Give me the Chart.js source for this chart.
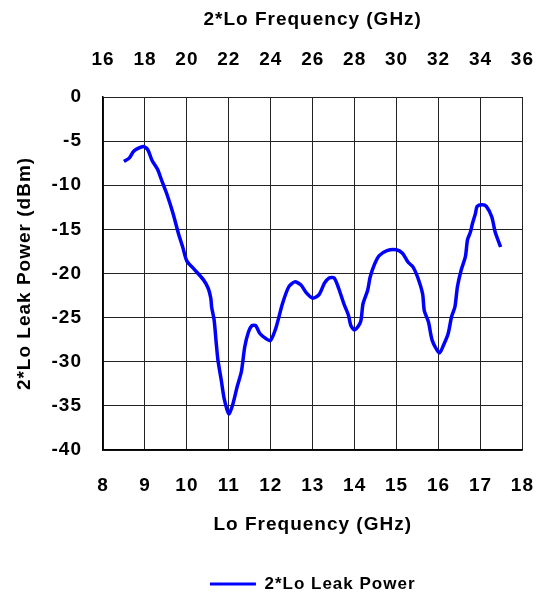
<!DOCTYPE html>
<html>
<head>
<meta charset="utf-8">
<script src="https://cdn.jsdelivr.net/npm/chart.js@4/dist/chart.umd.min.js"></script>
<style>
html,body{margin:0;padding:0;background:#fff;}
#wrap{width:560px;height:593px;position:relative;}
</style>
</head>
<body>
<div id="wrap"><canvas id="c"></canvas></div>
<script>
// Lo frequency (GHz)
const loFreq = [8.50, 8.63, 8.74, 8.96, 9.07, 9.17, 9.30, 9.41, 9.53, 9.67, 9.80, 9.90, 10.00, 10.17, 10.40, 10.51, 10.57, 10.59, 10.65, 10.70, 10.74, 10.82, 10.89, 11.00, 11.09, 11.20, 11.30, 11.38, 11.47, 11.55, 11.64, 11.74, 11.89, 11.99, 12.12, 12.28, 12.43, 12.57, 12.72, 12.85, 13.00, 13.15, 13.28, 13.39, 13.51, 13.62, 13.74, 13.85, 13.91, 14.00, 14.14, 14.20, 14.31, 14.37, 14.47, 14.58, 14.77, 14.99, 15.14, 15.27, 15.39, 15.50, 15.62, 15.66, 15.76, 15.85, 16.02, 16.12, 16.23, 16.31, 16.39, 16.45, 16.54, 16.64, 16.69, 16.76, 16.81, 16.88, 16.92, 17.04, 17.14, 17.27, 17.35, 17.48];
// 2*Lo leak power (dBm)
const leakPower = [-7.3, -6.9, -6.1, -5.6, -6.0, -7.2, -8.2, -9.6, -11.1, -13.2, -15.5, -17.0, -18.6, -19.5, -20.75, -21.7, -22.8, -23.8, -25.3, -27.9, -29.8, -32.1, -34.2, -35.9, -34.9, -32.8, -31.1, -28.3, -26.6, -25.9, -25.9, -26.8, -27.4, -27.6, -26.2, -23.4, -21.5, -20.95, -21.3, -22.2, -22.8, -22.4, -21.1, -20.5, -20.5, -21.7, -23.4, -24.7, -25.9, -26.4, -25.5, -23.4, -21.9, -20.4, -19.0, -18.0, -17.4, -17.3, -17.7, -18.7, -19.25, -20.4, -22.3, -24.2, -25.5, -27.6, -29.0, -28.1, -26.8, -24.9, -23.8, -21.5, -19.6, -18.1, -16.2, -15.3, -14.3, -13.2, -12.4, -12.2, -12.4, -13.6, -15.3, -17.0];

const seriesName = '2*Lo Leak Power';
const xTitle = 'Lo Frequency (GHz)';
const x2Title = '2*Lo Frequency (GHz)';
const yTitle = '2*Lo Leak Power (dBm)';
const xRange = [8, 18];
const x2Range = [16, 36];
const yRange = [-40, 0];

const FONT = '"Liberation Sans", Arial, Helvetica, sans-serif';
const tickFont = {family: FONT, size: 19, weight: 'bold'};
const titleFont = {family: FONT, size: 19, weight: 'bold'};

const spacingPlugin = {
  id: 'spacing',
  beforeUpdate(chart){ chart.ctx.letterSpacing = '1px'; },
  beforeLayout(chart){ chart.ctx.letterSpacing = '1px'; },
  beforeDraw(chart){ chart.ctx.letterSpacing = '1px'; }
};

const points = loFreq.map((x, i) => ({x: x, y: leakPower[i]}));

new Chart(document.getElementById('c'), {
  type: 'line',
  data: {
    datasets: [{
      label: seriesName,
      data: points,
      borderColor: '#0000FF',
      backgroundColor: '#0000FF',
      borderWidth: 3.5,
      pointRadius: 0,
      tension: 0.25,
      fill: false
    }]
  },
  plugins: [spacingPlugin],
  options: {
    responsive: true,
    maintainAspectRatio: false,
    animation: false,
    layout: {padding: {left: 0, right: 23, top: 0, bottom: -9.5}},
    plugins: {
      legend: {
        position: 'bottom',
        fullSize: false,
        labels: {
          color: '#000',
          font: {family: FONT, size: 17, weight: 'bold'},
          boxWidth: 46,
          boxHeight: 3,
          padding: 10,
          generateLabels: (chart) => Chart.defaults.plugins.legend.labels.generateLabels(chart).map(l => Object.assign(l, {lineWidth: 0, fillStyle: '#0000FF'}))
        }
      },
      tooltip: {enabled: false}
    },
    scales: {
      x: {
        type: 'linear',
        position: 'bottom',
        min: xRange[0], max: xRange[1],
        afterFit: (s) => { s.height = 115.5; },
        ticks: {stepSize: 1, color: '#000', font: tickFont, padding: 24, maxRotation: 0},
        grid: {color: '#222', lineWidth: 1, drawTicks: false},
        border: {color: '#000', width: 1.5},
        title: {display: true, text: xTitle, color: '#000', font: titleFont, padding: {top: 0, bottom: 29}}
      },
      x2: {
        type: 'linear',
        position: 'top',
        min: x2Range[0], max: x2Range[1],
        afterFit: (s) => { s.height = 97; },
        ticks: {stepSize: 2, color: '#000', font: tickFont, padding: 26, maxRotation: 0},
        grid: {display: false, drawTicks: false},
        border: {display: false},
        title: {display: true, text: x2Title, color: '#000', font: titleFont, padding: {top: 8.6, bottom: 0}}
      },
      y: {
        type: 'linear',
        position: 'left',
        min: yRange[0], max: yRange[1],
        afterFit: (s) => { s.width = 103; },
        ticks: {stepSize: 5, color: '#000', font: tickFont, padding: 21},
        grid: {color: '#222', lineWidth: 1, drawTicks: false},
        border: {color: '#000', width: 1.5},
        title: {display: true, text: yTitle, color: '#000', font: titleFont, padding: {top: 13.6, bottom: 0}}
      }
    }
  }
});
</script>
</body>
</html>
